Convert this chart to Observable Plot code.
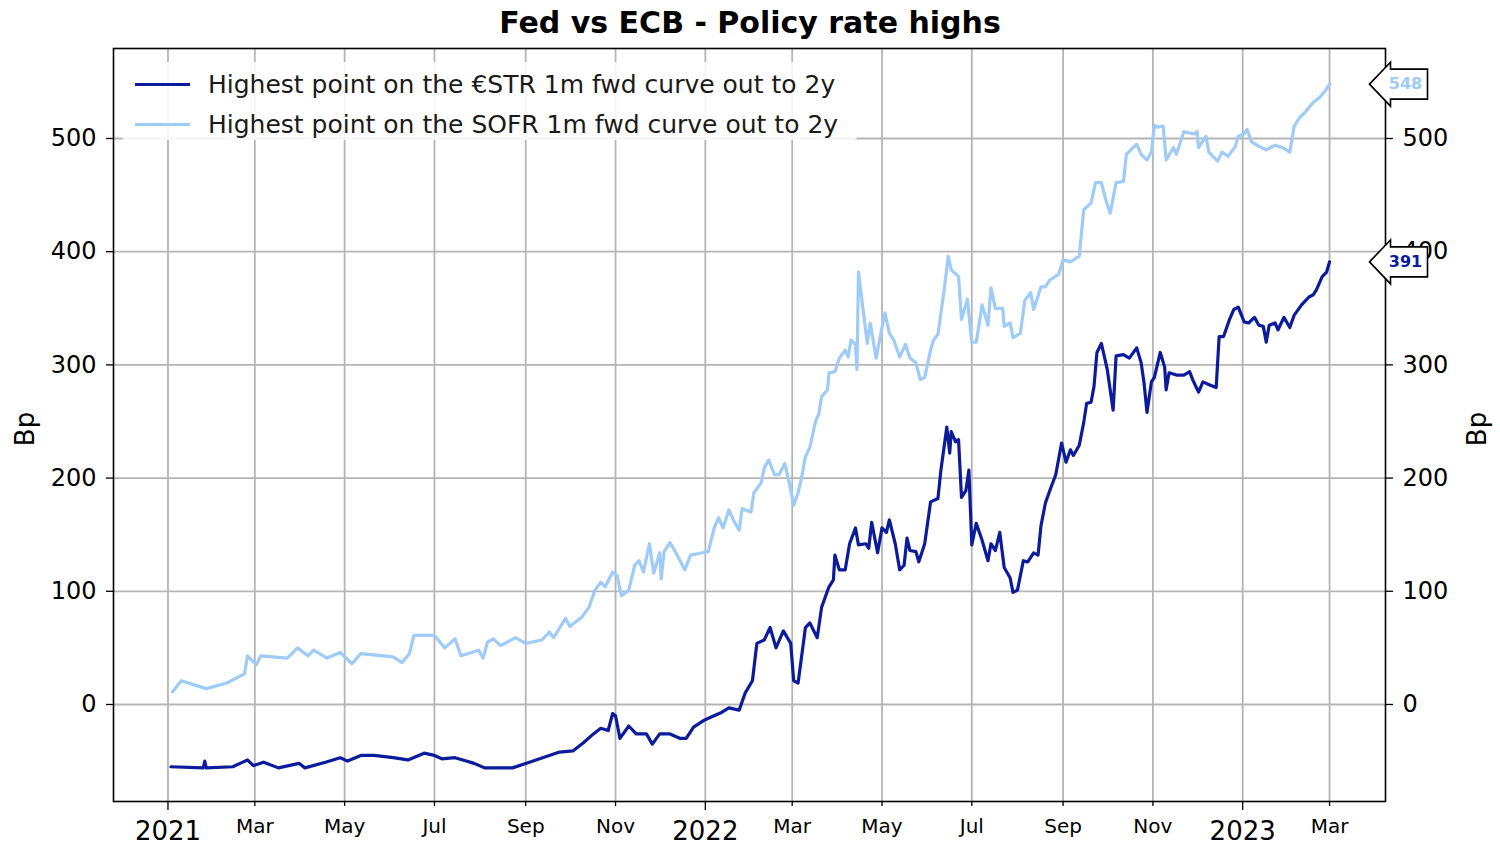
<!DOCTYPE html>
<html>
<head>
<meta charset="utf-8">
<script src="https://cdn.jsdelivr.net/npm/d3@7"></script>
<script src="https://cdn.jsdelivr.net/npm/@observablehq/plot@0.6"></script>
<style>
  html, body { margin: 0; padding: 0; background: #fff; }
  body { font-family: "DejaVu Sans", sans-serif; width: 1500px; height: 850px; position: relative; overflow: hidden; }
  #title { position: absolute; left: 0; width: 1500px; top: 5px; text-align: center; font-weight: bold; font-size: 30px; color: #000; }
  .ylab { position: absolute; top: 429px; font-size: 26px; color: #000; transform: translate(-50%, -50%) rotate(-90deg); white-space: nowrap; }
  #legend { position: absolute; left: 122px; top: 62px; width: 735px; height: 78px; background: rgba(255,255,255,0.85); border-radius: 4px; }
  .lrow { position: absolute; left: 0; height: 40px; display: flex; align-items: center; font-size: 25px; color: #1a1a1a; white-space: nowrap; }
  .sw { display: inline-block; width: 55px; height: 3px; margin-left: 13px; margin-right: 18px; }
</style>
</head>
<body>
<div id="title">Fed vs ECB - Policy rate highs</div>
<div id="chart"></div>
<div class="ylab" style="left:25px">Bp</div>
<div class="ylab" style="left:1477px">Bp</div>
<div id="legend"></div>
<script>
// ---------- data ----------
const seriesNames = [
  "Highest point on the €STR 1m fwd curve out to 2y",
  "Highest point on the SOFR 1m fwd curve out to 2y"
];
const seriesColors = ["#0b1b9c", "#9ecbf8"];

const estrDates = ["2021-01-03","2021-01-25","2021-01-26","2021-01-27","2021-02-14","2021-02-19","2021-02-24","2021-02-28","2021-03-07","2021-03-17","2021-03-31","2021-04-04","2021-04-18","2021-04-28","2021-05-03","2021-05-12","2021-05-21","2021-06-03","2021-06-13","2021-06-24","2021-07-01","2021-07-06","2021-07-15","2021-07-28","2021-08-04","2021-08-23","2021-09-06","2021-09-17","2021-09-24","2021-10-03","2021-10-10","2021-10-17","2021-10-22","2021-10-27","2021-10-30","2021-11-01","2021-11-04","2021-11-10","2021-11-15","2021-11-22","2021-11-26","2021-12-01","2021-12-08","2021-12-15","2021-12-19","2021-12-24","2021-12-31","2022-01-05","2022-01-12","2022-01-17","2022-01-24","2022-01-28","2022-02-02","2022-02-05","2022-02-10","2022-02-14","2022-02-18","2022-02-23","2022-02-28","2022-03-02","2022-03-05","2022-03-10","2022-03-13","2022-03-18","2022-03-21","2022-03-26","2022-03-29","2022-03-30","2022-04-02","2022-04-06","2022-04-09","2022-04-13","2022-04-15","2022-04-20","2022-04-22","2022-04-24","2022-04-28","2022-05-01","2022-05-04","2022-05-06","2022-05-10","2022-05-13","2022-05-16","2022-05-18","2022-05-20","2022-05-24","2022-05-26","2022-05-30","2022-06-03","2022-06-08","2022-06-10","2022-06-14","2022-06-16","2022-06-17","2022-06-20","2022-06-22","2022-06-24","2022-06-27","2022-06-29","2022-07-01","2022-07-04","2022-07-08","2022-07-12","2022-07-14","2022-07-17","2022-07-20","2022-07-23","2022-07-27","2022-07-29","2022-08-01","2022-08-05","2022-08-08","2022-08-12","2022-08-15","2022-08-17","2022-08-20","2022-08-23","2022-08-27","2022-08-31","2022-09-03","2022-09-06","2022-09-08","2022-09-12","2022-09-15","2022-09-17","2022-09-20","2022-09-22","2022-09-24","2022-09-27","2022-10-01","2022-10-05","2022-10-07","2022-10-12","2022-10-16","2022-10-21","2022-10-24","2022-10-26","2022-10-28","2022-10-31","2022-11-02","2022-11-06","2022-11-09","2022-11-10","2022-11-12","2022-11-17","2022-11-22","2022-11-26","2022-11-28","2022-12-02","2022-12-05","2022-12-10","2022-12-14","2022-12-16","2022-12-19","2022-12-23","2022-12-26","2022-12-29","2023-01-02","2023-01-05","2023-01-09","2023-01-12","2023-01-15","2023-01-17","2023-01-19","2023-01-23","2023-01-25","2023-01-29","2023-02-02","2023-02-05","2023-02-10","2023-02-15","2023-02-18","2023-02-20","2023-02-24","2023-02-27","2023-03-01"];
const estrValues = [-55,-56,-50,-56,-55,-52,-49,-54,-51,-56,-52,-56,-51,-47,-50,-45,-45,-47,-49,-43,-45,-48,-47,-52,-56,-56,-50,-45,-42,-41,-34,-26,-21,-23,-8,-10,-30,-19,-26,-26,-35,-26,-26,-30,-30,-20,-14,-11,-7,-3,-5,10,21,54,57,68,50,65,54,21,19,68,72,59,86,104,110,132,119,119,142,156,141,142,138,161,134,156,152,163,142,119,123,147,136,135,126,142,179,182,207,245,222,241,232,234,183,189,207,141,160,145,127,142,136,152,121,112,99,101,127,126,134,132,158,178,189,203,231,214,225,220,229,249,266,267,281,311,319,296,260,308,309,306,315,302,284,258,285,289,311,298,278,293,291,291,294,287,276,285,282,280,325,325,340,349,351,338,337,342,335,334,320,335,337,331,342,333,344,353,360,362,366,378,382,391];

const sofrDates = ["2021-01-04","2021-01-10","2021-01-27","2021-02-10","2021-02-22","2021-02-24","2021-03-02","2021-03-05","2021-03-23","2021-03-30","2021-04-06","2021-04-10","2021-04-19","2021-04-28","2021-05-06","2021-05-12","2021-06-03","2021-06-09","2021-06-14","2021-06-17","2021-07-01","2021-07-08","2021-07-15","2021-07-19","2021-07-31","2021-08-03","2021-08-06","2021-08-10","2021-08-15","2021-08-25","2021-09-01","2021-09-12","2021-09-17","2021-09-20","2021-09-28","2021-10-01","2021-10-09","2021-10-14","2021-10-18","2021-10-22","2021-10-25","2021-10-30","2021-11-02","2021-11-05","2021-11-10","2021-11-14","2021-11-17","2021-11-20","2021-11-24","2021-11-27","2021-12-01","2021-12-02","2021-12-04","2021-12-08","2021-12-12","2021-12-18","2021-12-22","2021-12-30","2022-01-03","2022-01-07","2022-01-10","2022-01-13","2022-01-17","2022-01-20","2022-01-24","2022-01-26","2022-02-01","2022-02-03","2022-02-08","2022-02-10","2022-02-13","2022-02-17","2022-02-20","2022-02-24","2022-02-27","2022-03-02","2022-03-05","2022-03-07","2022-03-10","2022-03-13","2022-03-17","2022-03-19","2022-03-21","2022-03-25","2022-03-26","2022-03-30","2022-04-02","2022-04-06","2022-04-08","2022-04-10","2022-04-13","2022-04-14","2022-04-15","2022-04-18","2022-04-21","2022-04-23","2022-04-27","2022-05-01","2022-05-03","2022-05-06","2022-05-09","2022-05-13","2022-05-17","2022-05-20","2022-05-24","2022-05-27","2022-05-30","2022-06-03","2022-06-05","2022-06-08","2022-06-12","2022-06-15","2022-06-17","2022-06-22","2022-06-24","2022-06-28","2022-07-01","2022-07-04","2022-07-08","2022-07-12","2022-07-14","2022-07-17","2022-07-22","2022-07-23","2022-07-27","2022-07-29","2022-08-03","2022-08-06","2022-08-10","2022-08-12","2022-08-17","2022-08-20","2022-08-23","2022-08-29","2022-09-01","2022-09-06","2022-09-12","2022-09-15","2022-09-20","2022-09-23","2022-09-27","2022-09-30","2022-10-03","2022-10-07","2022-10-12","2022-10-14","2022-10-21","2022-10-24","2022-10-28","2022-10-31","2022-11-02","2022-11-04","2022-11-08","2022-11-10","2022-11-15","2022-11-17","2022-11-22","2022-11-29","2022-12-01","2022-12-02","2022-12-07","2022-12-09","2022-12-15","2022-12-18","2022-12-22","2022-12-27","2022-12-29","2023-01-02","2023-01-04","2023-01-07","2023-01-12","2023-01-17","2023-01-23","2023-01-28","2023-02-02","2023-02-05","2023-02-09","2023-02-13","2023-02-18","2023-02-22","2023-02-26","2023-03-01"];
const sofrValues = [11,21,14,19,27,43,35,43,41,50,43,48,41,46,36,45,42,37,45,61,61,50,58,43,48,41,55,58,52,59,54,57,64,59,76,69,77,86,101,108,104,117,114,96,101,123,127,117,142,116,134,111,135,143,134,119,132,134,135,156,165,156,172,163,154,173,170,187,196,209,216,203,203,213,196,176,187,198,219,227,251,256,272,278,293,294,306,313,307,322,318,296,382,350,319,337,306,333,346,328,322,307,318,306,302,287,289,313,322,327,364,396,384,378,340,358,320,320,353,335,368,350,350,334,337,324,328,357,364,349,369,369,375,380,393,391,396,437,443,461,461,446,434,461,462,486,495,486,481,488,512,510,511,481,492,486,506,504,506,492,502,488,480,488,484,493,502,504,508,497,493,490,494,492,488,511,519,524,532,536,542,548];

const yTicks = [0, 100, 200, 300, 400, 500];
const monthTicks = ["2021-03-01","2021-05-01","2021-07-01","2021-09-01","2021-11-01","2022-03-01","2022-05-01","2022-07-01","2022-09-01","2022-11-01","2023-03-01"];
const yearTicks = ["2021-01-01","2022-01-01","2023-01-01"];
const xDomain = ["2020-11-25", "2023-04-08"];
const yDomain = [-85.7, 579.5];

// ---------- build ----------
const parse = d3.utcParse("%Y-%m-%d");
const estr = estrDates.map((d, i) => ({date: parse(d), v: estrValues[i], s: seriesNames[0]}));
const sofr = sofrDates.map((d, i) => ({date: parse(d), v: sofrValues[i], s: seriesNames[1]}));
const lastPts = [
  {v: sofr[sofr.length - 1].v, c: seriesColors[1]},
  {v: estr[estr.length - 1].v, c: seriesColors[0]}
];

const arrowSymbol = {
  draw(ctx) {
    ctx.moveTo(-16, 0);
    ctx.lineTo(5, -22);
    ctx.lineTo(5, -15);
    ctx.lineTo(42, -15);
    ctx.lineTo(42, 15);
    ctx.lineTo(5, 15);
    ctx.lineTo(5, 22);
    ctx.closePath();
  }
};

const gridColor = "#b5b5b5";

const chart = Plot.plot({
  width: 1500,
  height: 850,
  marginLeft: 113,
  marginRight: 115,
  marginTop: 48,
  marginBottom: 49,
  style: {fontFamily: "DejaVu Sans, sans-serif", background: "transparent", color: "#000"},
  x: {type: "utc", domain: xDomain.map(parse)},
  y: {domain: yDomain},
  marks: [
    Plot.gridX([...monthTicks, ...yearTicks].map(parse), {stroke: gridColor, strokeOpacity: 1, strokeWidth: 1.8}),
    Plot.gridY(yTicks, {stroke: gridColor, strokeOpacity: 1, strokeWidth: 1.8}),
    Plot.line(sofr, {x: "date", y: "v", stroke: seriesColors[1], strokeWidth: 3.2, curve: "linear"}),
    Plot.line(estr, {x: "date", y: "v", stroke: seriesColors[0], strokeWidth: 3.2, curve: "linear"}),
    Plot.frame({stroke: "#000", strokeWidth: 1.6}),
    Plot.axisY(yTicks, {anchor: "left", tickSize: 7, tickPadding: 10, fontSize: 24, label: null, strokeWidth: 1.3}),
    Plot.axisY(yTicks, {anchor: "right", tickSize: 7, tickPadding: 10, fontSize: 24, label: null, strokeWidth: 1.3}),
    Plot.axisX(monthTicks.map(parse), {anchor: "bottom", tickSize: 5, tickPadding: 12, fontSize: 20, label: null, strokeWidth: 1.3, tickFormat: d3.utcFormat("%b")}),
    Plot.axisX(yearTicks.map(parse), {anchor: "bottom", tickSize: 9, tickPadding: 11, fontSize: 26, label: null, strokeWidth: 1.3, tickFormat: d3.utcFormat("%Y")}),
    Plot.dot(lastPts, {y: "v", frameAnchor: "right", symbol: arrowSymbol, r: 10, fill: "#fff", stroke: "#000", strokeWidth: 1.6}),
    Plot.text(lastPts, {y: "v", frameAnchor: "right", textAnchor: "middle", dx: 20, text: d => String(d.v), fill: "c", fontWeight: "bold", fontSize: 16})
  ]
});
document.getElementById("chart").appendChild(chart);

// legend
const legend = document.getElementById("legend");
seriesNames.forEach((name, i) => {
  const row = document.createElement("div");
  row.className = "lrow";
  row.style.top = (i * 40 + 2) + "px";
  const sw = document.createElement("span");
  sw.className = "sw";
  sw.style.background = seriesColors[i];
  row.appendChild(sw);
  const t = document.createElement("span");
  t.textContent = name;
  row.appendChild(t);
  legend.appendChild(row);
});
</script>
</body>
</html>
